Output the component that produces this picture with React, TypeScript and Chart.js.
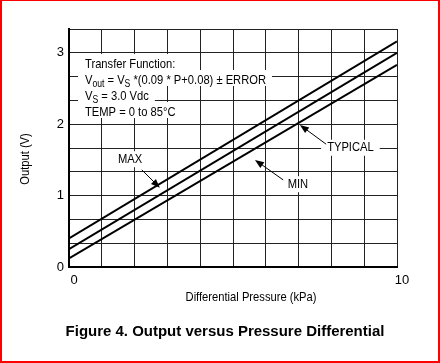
import React, { useEffect, useRef } from 'react';
import { Chart, registerables } from 'chart.js';

Chart.register(...registerables);

// ---- data ----
const pressureKPa = [0, 10];
const maxOutputV = [0.4, 3.16];
const typicalOutputV = [0.25, 3.0];
const minOutputV = [0.12, 2.83];

const xGridValues = [0, 1, 2, 3, 4, 5, 6, 7, 8, 9, 10];
const xLabeledTicks = [0, 10];
const yGridThirds = [0, 1, 2, 3, 4, 5, 6, 7, 8, 9, 10];
const yLabeledTicks = [0, 1, 2, 3];
const Y_MAX = 10 / 3;

const xTitle = 'Differential Pressure (kPa)';
const yTitle = 'Output (V)';
const caption = 'Figure 4. Output versus Pressure Differential';

type Run = { t: string; sub?: boolean };
const transferFunction: Run[][] = [
  [{ t: 'Transfer Function:' }],
  [{ t: 'V' }, { t: 'out', sub: true }, { t: ' = V' }, { t: 'S', sub: true }, { t: ' *(0.09 * P+0.08) \u00B1 ERROR' }],
  [{ t: 'V' }, { t: 'S', sub: true }, { t: ' = 3.0 Vdc' }],
  [{ t: 'TEMP = 0 to 85\u00B0C' }],
];

const curveLabels = [
  { text: 'MAX', at: [1.86, 1.51], tail: [2.22, 1.36], tip: [2.77, 1.11] },
  { text: 'TYPICAL', at: [8.58, 1.67], tail: [7.84, 1.72], tip: [7.04, 1.99] },
  { text: 'MIN', at: [6.98, 1.16], tail: [6.53, 1.22], tip: [5.67, 1.5] },
];

const SANS = '"Liberation Sans", Arial, sans-serif';
const COND = 0.86;

function drawText(ctx: CanvasRenderingContext2D, text: string, x: number, y: number, sx: number) {
  ctx.save();
  ctx.translate(x, y);
  ctx.scale(sx, 1);
  ctx.fillText(text, 0, 0);
  ctx.restore();
}

const annotationPlugin = {
  id: 'annotations',
  afterDraw(chart: any) {
    const ctx: CanvasRenderingContext2D = chart.ctx;
    const { left, top, right, bottom } = chart.chartArea;
    const xs = chart.scales.x;
    const ys = chart.scales.y;
    ctx.save();

    // Transfer function box
    const font = `13px ${SANS}`;
    const subFont = `10px ${SANS}`;
    const tx = left + 16;
    const firstBase = top + 39;
    const lh = 16;
    const widths = transferFunction.map((runs) => {
      let w = 0;
      runs.forEach((r) => {
        ctx.font = r.sub ? subFont : font;
        w += ctx.measureText(r.t).width * COND;
      });
      return w;
    });
    ctx.fillStyle = '#fff';
    widths.forEach((w, i) => {
      ctx.fillRect(tx - 7, firstBase + i * lh - 14, w + 13, lh);
    });
    ctx.fillStyle = '#000';
    ctx.textBaseline = 'alphabetic';
    ctx.textAlign = 'left';
    transferFunction.forEach((runs, i) => {
      let x = tx;
      const b = firstBase + i * lh;
      runs.forEach((r) => {
        ctx.font = r.sub ? subFont : font;
        drawText(ctx, r.t, x, b + (r.sub ? 3 : 0), COND);
        x += ctx.measureText(r.t).width * COND;
      });
    });

    // Curve labels with arrows
    ctx.font = font;
    curveLabels.forEach((c) => {
      const cx = xs.getPixelForValue(c.at[0]);
      const cy = ys.getPixelForValue(c.at[1]);
      const w = ctx.measureText(c.text).width * COND;
      ctx.fillStyle = '#fff';
      ctx.fillRect(cx - w / 2 - 6, cy - 8, w + 12, 16);
      ctx.fillStyle = '#000';
      ctx.textAlign = 'center';
      ctx.textBaseline = 'middle';
      drawText(ctx, c.text, cx, cy, COND);

      const x1 = xs.getPixelForValue(c.tail[0]);
      const y1 = ys.getPixelForValue(c.tail[1]);
      const x2 = xs.getPixelForValue(c.tip[0]);
      const y2 = ys.getPixelForValue(c.tip[1]);
      const ang = Math.atan2(y2 - y1, x2 - x1);
      const hl = 9;
      const hw = 3.5;
      ctx.strokeStyle = '#000';
      ctx.lineWidth = 1;
      ctx.beginPath();
      ctx.moveTo(x1, y1);
      ctx.lineTo(x2 - Math.cos(ang) * hl * 0.8, y2 - Math.sin(ang) * hl * 0.8);
      ctx.stroke();
      ctx.beginPath();
      ctx.moveTo(x2, y2);
      ctx.lineTo(x2 - Math.cos(ang) * hl - Math.sin(ang) * hw, y2 - Math.sin(ang) * hl + Math.cos(ang) * hw);
      ctx.lineTo(x2 - Math.cos(ang) * hl + Math.sin(ang) * hw, y2 - Math.sin(ang) * hl - Math.cos(ang) * hw);
      ctx.closePath();
      ctx.fill();
    });

    // Axis titles
    ctx.fillStyle = '#000';
    ctx.font = font;
    ctx.textAlign = 'center';
    ctx.textBaseline = 'middle';
    drawText(ctx, xTitle, (left + right) / 2 + 18, bottom + 30, COND);
    ctx.save();
    ctx.translate(left - 44, (top + bottom) / 2 + 11);
    ctx.rotate(-Math.PI / 2);
    drawText(ctx, yTitle, 0, 0, COND);
    ctx.restore();

    // Caption
    ctx.font = `bold 14px ${SANS}`;
    drawText(ctx, caption, 225, bottom + 65, 1.07);

    ctx.restore();
  },
};

export default function App() {
  const ref = useRef<HTMLCanvasElement>(null);

  useEffect(() => {
    const mk = (label: string, ys: number[]) => ({
      label,
      data: pressureKPa.map((x, i) => ({ x, y: ys[i] })),
      borderColor: '#000',
      borderWidth: 2,
      pointRadius: 0,
      fill: false,
      tension: 0,
    });
    const tickFont = { family: SANS, size: 13 };
    const chart = new Chart(ref.current as HTMLCanvasElement, {
      type: 'line',
      data: {
        datasets: [mk('MAX', maxOutputV), mk('TYPICAL', typicalOutputV), mk('MIN', minOutputV)],
      },
      options: {
        responsive: false,
        animation: false,
        devicePixelRatio: 1,
        layout: { padding: { left: 10, right: 43, top: 29, bottom: 0 } },
        plugins: {
          legend: { display: false },
          tooltip: { enabled: false },
          title: { display: false },
        },
        scales: {
          x: {
            type: 'linear',
            min: 0,
            max: 10,
            afterBuildTicks: (s: any) => {
              s.ticks = xGridValues.map((v) => ({ value: v }));
            },
            afterFit: (s: any) => {
              s.height = 96;
            },
            grid: { color: '#222', lineWidth: 1, drawTicks: false },
            border: { color: '#000', width: 2 },
            ticks: {
              color: '#000',
              font: tickFont,
              padding: 6,
              labelOffset: 5,
              maxRotation: 0,
              autoSkip: false,
              callback: (v: any) => (xLabeledTicks.includes(Number(v)) ? String(v) : ''),
            },
          },
          y: {
            type: 'linear',
            min: 0,
            max: Y_MAX,
            afterBuildTicks: (s: any) => {
              s.ticks = yGridThirds.map((k) => ({ value: k / 3 }));
            },
            afterFit: (s: any) => {
              s.width = 59;
            },
            grid: { color: '#222', lineWidth: 1, drawTicks: false },
            border: { color: '#000', width: 2 },
            ticks: {
              color: '#000',
              font: tickFont,
              padding: 5,
              autoSkip: false,
              callback: (v: any) => {
                const r = Math.round(Number(v));
                return Math.abs(Number(v) - r) < 1e-6 && yLabeledTicks.includes(r) ? String(r) : '';
              },
            },
          },
        },
      },
      plugins: [annotationPlugin],
    } as any);
    return () => chart.destroy();
  }, []);

  return (
    <div style={{ position: 'fixed', left: 0, top: 0, width: 440, height: 363, background: '#fff' }}>
      <canvas
        ref={ref}
        width={440}
        height={363}
        style={{ position: 'absolute', left: 0, top: 0, width: 440, height: 363 }}
      />
      <div
        style={{
          position: 'absolute',
          left: 0,
          top: 0,
          width: 440,
          height: 363,
          boxSizing: 'border-box',
          borderLeft: '2px solid red',
          borderTop: '1px solid red',
          borderRight: '2px solid red',
          borderBottom: '2px solid red',
          pointerEvents: 'none',
        }}
      />
    </div>
  );
}
